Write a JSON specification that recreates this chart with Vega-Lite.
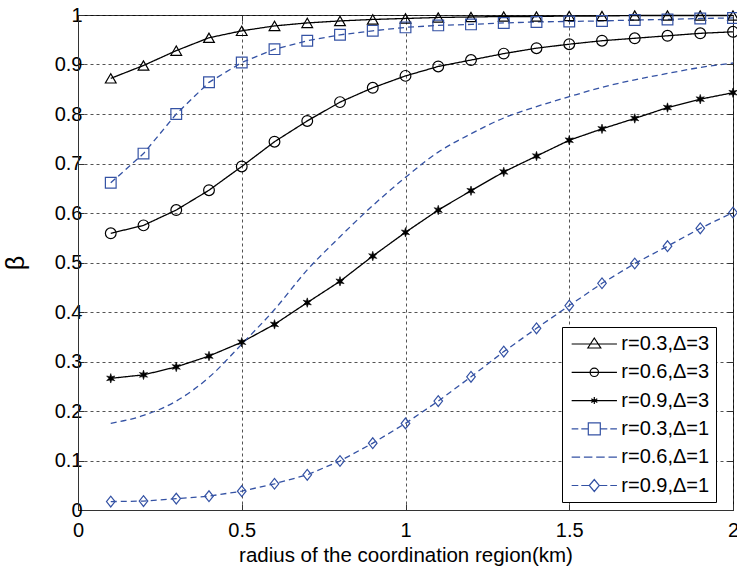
{
  "$schema": "https://vega.github.io/schema/vega-lite/v6.json",
  "width": 655,
  "height": 495,
  "autosize": {"type": "none"},
  "padding": {"left": 78, "top": 15, "right": 4, "bottom": 56},
  "config": {
    "view": {"stroke": "#333", "strokeWidth": 1},
    "font": "Liberation Sans",
    "axis": {
      "domainColor": "#333",
      "tickColor": "#333",
      "tickSize": -6,
      "labelFont": "Liberation Sans",
      "labelFontSize": 20,
      "labelColor": "#000",
      "labelFlush": false,
      "labelOverlap": false,
      "gridColor": "#000",
      "gridDash": [3, 3],
      "gridOpacity": 0.85,
      "gridWidth": 0.8,
      "titleColor": "#000",
      "titleFontWeight": "normal"
    },
    "axisX": {"titleFont": "Liberation Sans", "titleFontSize": 20.5, "titlePadding": 5, "labelPadding": 16},
    "axisY": {"titleFont": "Liberation Sans", "titleFontSize": 25, "titlePadding": 26, "labelPadding": 2}
  },
  "data": {
    "values": [
      {"s": "r=0.3,Δ=3", "x": 0.1, "y": 0.872}, {"s": "r=0.3,Δ=3", "x": 0.2, "y": 0.898}, {"s": "r=0.3,Δ=3", "x": 0.3, "y": 0.928}, {"s": "r=0.3,Δ=3", "x": 0.4, "y": 0.954}, {"s": "r=0.3,Δ=3", "x": 0.5, "y": 0.968},
      {"s": "r=0.3,Δ=3", "x": 0.6, "y": 0.978}, {"s": "r=0.3,Δ=3", "x": 0.7, "y": 0.984}, {"s": "r=0.3,Δ=3", "x": 0.8, "y": 0.988}, {"s": "r=0.3,Δ=3", "x": 0.9, "y": 0.991}, {"s": "r=0.3,Δ=3", "x": 1.0, "y": 0.993},
      {"s": "r=0.3,Δ=3", "x": 1.1, "y": 0.995}, {"s": "r=0.3,Δ=3", "x": 1.2, "y": 0.996}, {"s": "r=0.3,Δ=3", "x": 1.3, "y": 0.997}, {"s": "r=0.3,Δ=3", "x": 1.4, "y": 0.997}, {"s": "r=0.3,Δ=3", "x": 1.5, "y": 0.998},
      {"s": "r=0.3,Δ=3", "x": 1.6, "y": 0.998}, {"s": "r=0.3,Δ=3", "x": 1.7, "y": 0.999}, {"s": "r=0.3,Δ=3", "x": 1.8, "y": 0.999}, {"s": "r=0.3,Δ=3", "x": 1.9, "y": 0.999}, {"s": "r=0.3,Δ=3", "x": 2.0, "y": 0.999},

      {"s": "r=0.6,Δ=3", "x": 0.1, "y": 0.559}, {"s": "r=0.6,Δ=3", "x": 0.2, "y": 0.575}, {"s": "r=0.6,Δ=3", "x": 0.3, "y": 0.606}, {"s": "r=0.6,Δ=3", "x": 0.4, "y": 0.646}, {"s": "r=0.6,Δ=3", "x": 0.5, "y": 0.694},
      {"s": "r=0.6,Δ=3", "x": 0.6, "y": 0.744}, {"s": "r=0.6,Δ=3", "x": 0.7, "y": 0.786}, {"s": "r=0.6,Δ=3", "x": 0.8, "y": 0.824}, {"s": "r=0.6,Δ=3", "x": 0.9, "y": 0.853}, {"s": "r=0.6,Δ=3", "x": 1.0, "y": 0.877},
      {"s": "r=0.6,Δ=3", "x": 1.1, "y": 0.896}, {"s": "r=0.6,Δ=3", "x": 1.2, "y": 0.909}, {"s": "r=0.6,Δ=3", "x": 1.3, "y": 0.922}, {"s": "r=0.6,Δ=3", "x": 1.4, "y": 0.933}, {"s": "r=0.6,Δ=3", "x": 1.5, "y": 0.941},
      {"s": "r=0.6,Δ=3", "x": 1.6, "y": 0.948}, {"s": "r=0.6,Δ=3", "x": 1.7, "y": 0.953}, {"s": "r=0.6,Δ=3", "x": 1.8, "y": 0.958}, {"s": "r=0.6,Δ=3", "x": 1.9, "y": 0.963}, {"s": "r=0.6,Δ=3", "x": 2.0, "y": 0.966},

      {"s": "r=0.9,Δ=3", "x": 0.1, "y": 0.266}, {"s": "r=0.9,Δ=3", "x": 0.2, "y": 0.273}, {"s": "r=0.9,Δ=3", "x": 0.3, "y": 0.289}, {"s": "r=0.9,Δ=3", "x": 0.4, "y": 0.311}, {"s": "r=0.9,Δ=3", "x": 0.5, "y": 0.339},
      {"s": "r=0.9,Δ=3", "x": 0.6, "y": 0.375}, {"s": "r=0.9,Δ=3", "x": 0.7, "y": 0.419}, {"s": "r=0.9,Δ=3", "x": 0.8, "y": 0.462}, {"s": "r=0.9,Δ=3", "x": 0.9, "y": 0.513}, {"s": "r=0.9,Δ=3", "x": 1.0, "y": 0.561},
      {"s": "r=0.9,Δ=3", "x": 1.1, "y": 0.606}, {"s": "r=0.9,Δ=3", "x": 1.2, "y": 0.645}, {"s": "r=0.9,Δ=3", "x": 1.3, "y": 0.683}, {"s": "r=0.9,Δ=3", "x": 1.4, "y": 0.715}, {"s": "r=0.9,Δ=3", "x": 1.5, "y": 0.747},
      {"s": "r=0.9,Δ=3", "x": 1.6, "y": 0.770}, {"s": "r=0.9,Δ=3", "x": 1.7, "y": 0.791}, {"s": "r=0.9,Δ=3", "x": 1.8, "y": 0.813}, {"s": "r=0.9,Δ=3", "x": 1.9, "y": 0.830}, {"s": "r=0.9,Δ=3", "x": 2.0, "y": 0.843},

      {"s": "r=0.3,Δ=1", "x": 0.1, "y": 0.661}, {"s": "r=0.3,Δ=1", "x": 0.2, "y": 0.720}, {"s": "r=0.3,Δ=1", "x": 0.3, "y": 0.800}, {"s": "r=0.3,Δ=1", "x": 0.4, "y": 0.864}, {"s": "r=0.3,Δ=1", "x": 0.5, "y": 0.904},
      {"s": "r=0.3,Δ=1", "x": 0.6, "y": 0.931}, {"s": "r=0.3,Δ=1", "x": 0.7, "y": 0.948}, {"s": "r=0.3,Δ=1", "x": 0.8, "y": 0.960}, {"s": "r=0.3,Δ=1", "x": 0.9, "y": 0.968}, {"s": "r=0.3,Δ=1", "x": 1.0, "y": 0.975},
      {"s": "r=0.3,Δ=1", "x": 1.1, "y": 0.979}, {"s": "r=0.3,Δ=1", "x": 1.2, "y": 0.981}, {"s": "r=0.3,Δ=1", "x": 1.3, "y": 0.984}, {"s": "r=0.3,Δ=1", "x": 1.4, "y": 0.986}, {"s": "r=0.3,Δ=1", "x": 1.5, "y": 0.987},
      {"s": "r=0.3,Δ=1", "x": 1.6, "y": 0.988}, {"s": "r=0.3,Δ=1", "x": 1.7, "y": 0.990}, {"s": "r=0.3,Δ=1", "x": 1.8, "y": 0.991}, {"s": "r=0.3,Δ=1", "x": 1.9, "y": 0.993}, {"s": "r=0.3,Δ=1", "x": 2.0, "y": 0.994},

      {"s": "r=0.6,Δ=1", "x": 0.1, "y": 0.175}, {"s": "r=0.6,Δ=1", "x": 0.2, "y": 0.191}, {"s": "r=0.6,Δ=1", "x": 0.3, "y": 0.220}, {"s": "r=0.6,Δ=1", "x": 0.4, "y": 0.268}, {"s": "r=0.6,Δ=1", "x": 0.5, "y": 0.335},
      {"s": "r=0.6,Δ=1", "x": 0.6, "y": 0.405}, {"s": "r=0.6,Δ=1", "x": 0.7, "y": 0.485}, {"s": "r=0.6,Δ=1", "x": 0.8, "y": 0.552}, {"s": "r=0.6,Δ=1", "x": 0.9, "y": 0.615}, {"s": "r=0.6,Δ=1", "x": 1.0, "y": 0.672},
      {"s": "r=0.6,Δ=1", "x": 1.1, "y": 0.723}, {"s": "r=0.6,Δ=1", "x": 1.2, "y": 0.760}, {"s": "r=0.6,Δ=1", "x": 1.3, "y": 0.792}, {"s": "r=0.6,Δ=1", "x": 1.4, "y": 0.815}, {"s": "r=0.6,Δ=1", "x": 1.5, "y": 0.835},
      {"s": "r=0.6,Δ=1", "x": 1.6, "y": 0.854}, {"s": "r=0.6,Δ=1", "x": 1.7, "y": 0.869}, {"s": "r=0.6,Δ=1", "x": 1.8, "y": 0.882}, {"s": "r=0.6,Δ=1", "x": 1.9, "y": 0.894}, {"s": "r=0.6,Δ=1", "x": 2.0, "y": 0.903},

      {"s": "r=0.9,Δ=1", "x": 0.1, "y": 0.017}, {"s": "r=0.9,Δ=1", "x": 0.2, "y": 0.018}, {"s": "r=0.9,Δ=1", "x": 0.3, "y": 0.023}, {"s": "r=0.9,Δ=1", "x": 0.4, "y": 0.028}, {"s": "r=0.9,Δ=1", "x": 0.5, "y": 0.038},
      {"s": "r=0.9,Δ=1", "x": 0.6, "y": 0.053}, {"s": "r=0.9,Δ=1", "x": 0.7, "y": 0.071}, {"s": "r=0.9,Δ=1", "x": 0.8, "y": 0.099}, {"s": "r=0.9,Δ=1", "x": 0.9, "y": 0.135}, {"s": "r=0.9,Δ=1", "x": 1.0, "y": 0.175},
      {"s": "r=0.9,Δ=1", "x": 1.1, "y": 0.220}, {"s": "r=0.9,Δ=1", "x": 1.2, "y": 0.269}, {"s": "r=0.9,Δ=1", "x": 1.3, "y": 0.320}, {"s": "r=0.9,Δ=1", "x": 1.4, "y": 0.367}, {"s": "r=0.9,Δ=1", "x": 1.5, "y": 0.413},
      {"s": "r=0.9,Δ=1", "x": 1.6, "y": 0.458}, {"s": "r=0.9,Δ=1", "x": 1.7, "y": 0.498}, {"s": "r=0.9,Δ=1", "x": 1.8, "y": 0.533}, {"s": "r=0.9,Δ=1", "x": 1.9, "y": 0.569}, {"s": "r=0.9,Δ=1", "x": 2.0, "y": 0.601}
    ]
  },
  "resolve": {"scale": {"x": "independent", "y": "independent", "color": "independent", "shape": "independent"}},
  "layer": [
    {
      "layer": [
        {
          "transform": [{"filter": "datum.s !== 'r=0.6,Δ=1'"}],
          "mark": {"type": "line", "strokeWidth": 1.3},
          "encoding": {
            "x": {"field": "x", "type": "quantitative", "scale": {"domain": [0, 2]}, "title": "radius of the coordination region(km)",
              "axis": {"values": [0, 0.5, 1, 1.5, 2], "format": "~g"}},
            "y": {"field": "y", "type": "quantitative", "scale": {"domain": [0, 1]}, "title": "β",
              "axis": {"values": [0, 0.1, 0.2, 0.3, 0.4, 0.5, 0.6, 0.7, 0.8, 0.9, 1], "format": "~g"}},
            "color": {"field": "s", "type": "nominal", "legend": null,
              "scale": {"domain": ["r=0.3,Δ=3", "r=0.6,Δ=3", "r=0.9,Δ=3", "r=0.3,Δ=1", "r=0.6,Δ=1", "r=0.9,Δ=1"], "range": ["#000000", "#000000", "#000000", "#3452a4", "#3452a4", "#3452a4"]}},
            "strokeDash": {"field": "s", "type": "nominal", "legend": null,
              "scale": {"domain": ["r=0.3,Δ=3", "r=0.6,Δ=3", "r=0.9,Δ=3", "r=0.3,Δ=1", "r=0.6,Δ=1", "r=0.9,Δ=1"], "range": [[1, 0], [1, 0], [1, 0], [6, 4], [6, 4], [6, 4]]}}
          }
        },
        {
          "transform": [{"filter": "datum.s === 'r=0.6,Δ=1'"}],
          "mark": {"type": "line", "strokeWidth": 1.3, "interpolate": "monotone", "strokeDash": [6, 4], "color": "#3452a4"},
          "encoding": {
            "x": {"field": "x", "type": "quantitative", "title": "radius of the coordination region(km)"},
            "y": {"field": "y", "type": "quantitative", "title": "β"}
          }
        },
        {
          "transform": [{"filter": "datum.s !== 'r=0.6,Δ=1' && datum.s !== 'r=0.9,Δ=3'"}],
          "mark": {"type": "point", "filled": false, "size": 115, "strokeWidth": 1.2, "opacity": 1},
          "encoding": {
            "x": {"field": "x", "type": "quantitative", "title": "radius of the coordination region(km)"},
            "y": {"field": "y", "type": "quantitative", "title": "β"},
            "color": {"field": "s", "type": "nominal", "legend": null},
            "shape": {"field": "s", "type": "nominal", "legend": null,
              "scale": {"domain": ["r=0.3,Δ=3", "r=0.6,Δ=3", "r=0.3,Δ=1", "r=0.9,Δ=1"], "range": ["triangle-up", "circle", "square", "M-0.8,0L0,-1L0.8,0L0,1Z"]}}
          }
        },
        {
          "transform": [{"filter": "datum.s === 'r=0.9,Δ=3'"}],
          "mark": {"type": "point", "filled": true, "size": 90, "opacity": 1, "color": "#000", "strokeWidth": 0.6, "stroke": "#000",
            "shape": "M0,-1L0.2,-0.346L0.866,-0.5L0.4,0L0.866,0.5L0.2,0.346L0,1L-0.2,0.346L-0.866,0.5L-0.4,0L-0.866,-0.5L-0.2,-0.346Z"},
          "encoding": {
            "x": {"field": "x", "type": "quantitative", "title": "radius of the coordination region(km)"},
            "y": {"field": "y", "type": "quantitative", "title": "β"}
          }
        }
      ]
    },
    {
      "transform": [{"filter": "datum.x > 5"}],
      "mark": {"type": "point", "filled": false, "size": 400, "opacity": 1, "strokeWidth": 1.2},
      "encoding": {
        "x": {"field": "x", "type": "quantitative", "scale": {"domain": [0, 2]},
          "axis": {"orient": "top", "labels": false, "grid": false, "domain": false, "title": null, "values": [0, 0.5, 1, 1.5, 2]}},
        "y": {"field": "y", "type": "quantitative", "scale": {"domain": [0, 1]},
          "axis": {"orient": "right", "labels": false, "grid": false, "domain": false, "title": null, "values": [0, 0.1, 0.2, 0.3, 0.4, 0.5, 0.6, 0.7, 0.8, 0.9, 1]}},
        "color": {"field": "s", "type": "nominal",
          "scale": {"domain": ["r=0.3,Δ=3", "r=0.6,Δ=3", "r=0.9,Δ=3", "r=0.3,Δ=1", "r=0.6,Δ=1", "r=0.9,Δ=1"], "range": ["#000000", "#000000", "#000000", "#3452a4", "#3452a4", "#3452a4"]},
          "legend": {"orient": "none", "legendX": 484, "legendY": 312, "title": null, "padding": 6, "strokeColor": "#000", "fillColor": "#fff",
            "labelFontSize": 20, "labelFont": "Liberation Sans", "labelColor": "#000", "symbolSize": 400, "symbolStrokeWidth": 1.2,
            "symbolOffset": 15.3, "labelOffset": 16, "rowPadding": 7.3, "cornerRadius": 0}},
        "shape": {"field": "s", "type": "nominal",
          "scale": {"domain": ["r=0.3,Δ=3", "r=0.6,Δ=3", "r=0.9,Δ=3", "r=0.3,Δ=1", "r=0.6,Δ=1", "r=0.9,Δ=1"],
            "range": [
              "M-2.265,0H2.265M-0.65,0.4L0,-0.6L0.65,0.4Z",
              "M-2.265,0H2.265M-0.42,0A0.42,0.42,0,1,0,0.42,0A0.42,0.42,0,1,0,-0.42,0Z",
              "M-2.265,0H2.265M0,-0.35V0.35M-0.3,-0.18L0.3,0.18M-0.3,0.18L0.3,-0.18",
              "M-2.265,0H-1.6M-1.3,0H-0.6M-0.6,-0.6H0.6V0.6H-0.6ZM0.6,0H1.3M1.6,0H2.265",
              "M-2.265,0H-1.42M-1.04,0H-0.19M0.19,0H1.04M1.42,0H2.265",
              "M-2.265,0H-1.6M-1.3,0H-0.5M-0.5,0L0,-0.6L0.5,0L0,0.6ZM0.5,0H1.3M1.6,0H2.265"
            ]},
          "legend": {"orient": "none", "legendX": 484, "legendY": 312, "title": null, "padding": 6, "strokeColor": "#000", "fillColor": "#fff",
            "labelFontSize": 20, "labelFont": "Liberation Sans", "labelColor": "#000", "symbolSize": 400, "symbolStrokeWidth": 1.2,
            "symbolOffset": 15.3, "labelOffset": 16, "rowPadding": 7.3, "cornerRadius": 0}}
      }
    }
  ]
}
